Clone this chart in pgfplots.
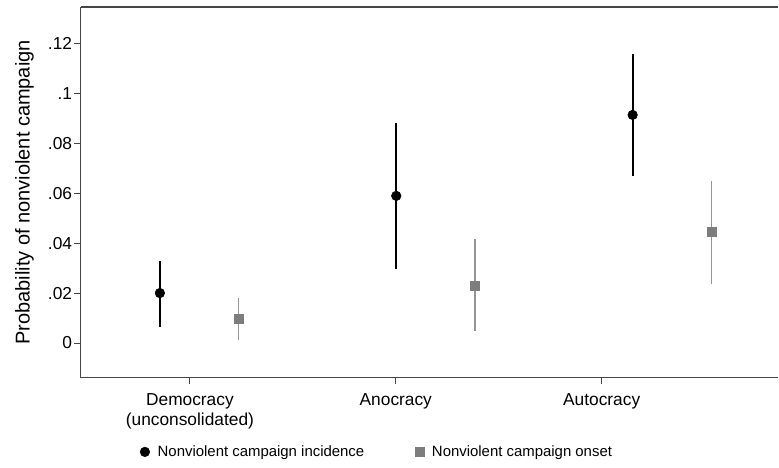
\documentclass[border=0pt]{standalone}
\usepackage{pgfplots}
\pgfplotsset{compat=1.18}
\usepackage{fontspec}
\setmainfont{Liberation Sans}
\definecolor{onsetmark}{RGB}{125,125,125}
\definecolor{onsetbar}{RGB}{150,150,150}
\definecolor{framecol}{RGB}{70,70,70}
\begin{document}
\begin{tikzpicture}
\begin{axis}[
  name=ax,
  scale only axis,
  width=523.5pt, height=278.25pt,
  xmin=-0.334, xmax=2.617,
  ymin=-0.0139, ymax=0.1345,
  axis x line=box, axis y line=left,
  y axis line style={-},
  axis line style={framecol, line width=0.8pt},
  xtick pos=bottom, ytick pos=left,
  tick align=outside,
  major tick length=5pt,
  every tick/.style={framecol, line width=0.7pt},
  xtick={0.127,0.998,1.869},
  xticklabels={{Democracy\\(unconsolidated)}, Anocracy, Autocracy},
  xticklabel style={align=center, font=\fontsize{13}{15}\selectfont, inner sep=2pt, yshift=-5pt},
  ytick={0,0.02,0.04,0.06,0.08,0.1,0.12},
  yticklabels={0,.02,.04,.06,.08,.1,.12},
  yticklabel style={font=\fontsize{13}{13}\selectfont, inner sep=1.5pt},
  /pgf/number format/assume math mode=true,
  ylabel={Probability of nonviolent campaign},
  ylabel style={font=\fontsize{15}{15}\selectfont, at={(axis description cs:-0.081,0.5)}, anchor=center},
  legend columns=2,
  legend style={at={(0.425,-0.2)}, anchor=center, draw=none, font=\fontsize{11.2}{11.2}\selectfont,
    /tikz/every odd column/.append style={column sep=4pt},
    /tikz/every even column/.append style={column sep=36pt}},
  legend cell align=left,
]
\addplot[only marks, mark=*, mark size=3.6pt, black,
  error bars/.cd, y dir=both, y explicit, error mark=none,
  error bar style={line width=1.5pt, black}]
  table[x=x, y=y, y error plus=ep, y error minus=em] {
x y ep em
0 0.0200 0.0130 0.0134
1 0.0589 0.0291 0.0293
2 0.0913 0.0244 0.0244
};
\addlegendentry{Nonviolent campaign incidence}
\addplot[only marks, mark=square*, mark size=3.4pt, onsetmark,
  error bars/.cd, y dir=both, y explicit, error mark=none,
  error bar style={line width=1.2pt, onsetbar}]
  table[x=x, y=y, y error plus=ep, y error minus=em] {
x y ep em
0.333 0.0096 0.0085 0.0083
1.333 0.0231 0.0185 0.0184
2.333 0.0444 0.0205 0.0207
};
\addlegendentry{Nonviolent campaign onset}
\end{axis}
\path (ax.south west) ++(-60.75pt,-67.5pt);
\path (ax.north east) ++(0,5.25pt);
\end{tikzpicture}
\end{document}
